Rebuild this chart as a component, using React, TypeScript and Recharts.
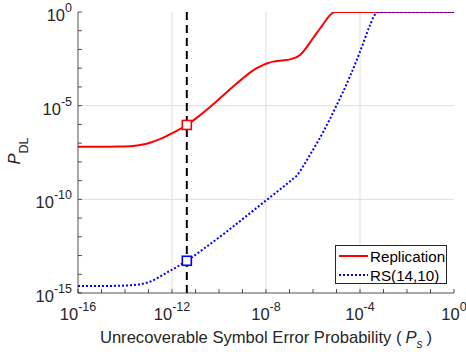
import React from 'react';
import {
  ComposedChart,
  Line,
  XAxis,
  YAxis,
  ReferenceLine,
  ReferenceDot,
  Legend,
} from 'recharts';

// ---- data ----
const replicationX = [
  1e-16, 1e-15, 5.01e-15, 2.24e-14, 5.01e-14, 1.15e-13, 2.51e-13, 5.89e-13, 1.58e-12, 4.27e-12,
  1.12e-11, 3.02e-11, 7.94e-11, 2.14e-10, 5.62e-10, 1.51e-9, 3.55e-9, 7.76e-9, 1.26e-8, 2.04e-8,
  4.47e-8, 1.05e-7, 1.78e-7, 2.82e-7, 4.57e-7, 7.41e-7, 1.2e-6, 2.0e-6, 3.02e-6, 4.47e-6,
  6.31e-6, 8.71e-6, 1,
];
const replicationY = [
  6.46e-8, 6.46e-8, 6.61e-8, 7.08e-8, 8.13e-8, 1.05e-7, 1.48e-7, 2.4e-7, 4.47e-7, 9.33e-7,
  2.24e-6, 6.03e-6, 1.74e-5, 5.25e-5, 1.51e-4, 4.27e-4, 9.12e-4, 1.51e-3, 1.91e-3, 2.24e-3,
  2.57e-3, 2.95e-3, 3.63e-3, 5.01e-3, 1.0e-2, 2.34e-2, 5.5e-2, 0.132, 0.275, 0.537,
  0.832, 1, 1,
];

const rsX = [
  1e-16, 8.7e-16, 6.17e-15, 2.24e-14, 1.15e-13, 5.89e-13, 4.27e-12, 3.02e-11, 2.14e-10, 1.51e-9,
  1.07e-8, 3.98e-8, 1.05e-7, 2.04e-7, 3.89e-7, 7.41e-7, 2.75e-6, 1.02e-5, 3.72e-5, 1e-4,
  2.69e-4, 3.98e-4, 5.13e-4, 6.31e-4, 1,
];
const rsY = [
  2.34e-15, 2.34e-15, 2.45e-15, 2.63e-15, 3.98e-15, 1.2e-14, 5.25e-14, 3.02e-13, 1.91e-12, 1.32e-11,
  9.33e-11, 3.39e-10, 9.12e-10, 1.86e-9, 6.03e-9, 2.34e-8, 4.07e-7, 1.07e-5, 3.55e-4, 7.59e-3,
  0.204, 0.617, 0.955, 1, 1,
];

const markerX = 4.27e-12;
const markerReplicationY = 9.33e-7;
const markerRsY = 5.25e-14;

const xTicks = [1e-16, 1e-15, 1e-14, 1e-13, 1e-12, 1e-11, 1e-10, 1e-9, 1e-8, 1e-7, 1e-6, 1e-5, 1e-4, 1e-3, 1e-2, 1e-1, 1];
const yTicks = [1e-15, 1e-14, 1e-13, 1e-12, 1e-11, 1e-10, 1e-9, 1e-8, 1e-7, 1e-6, 1e-5, 1e-4, 1e-3, 1e-2, 1e-1, 1];
const xGrid = [1e-12, 1e-8, 1e-4];
const yGrid = [1e-10, 1e-5];

const seriesNames = ['Replication', 'RS(14,10)'];

const replicationData = replicationX.map((x, i) => ({ x, y: replicationY[i] }));
const rsData = rsX.map((x, i) => ({ x, y: rsY[i] }));

const FONT = 'Liberation Sans, Arial, Helvetica, sans-serif';
const AXIS = '#262626';
const TICK_LEN = 4;

const expOf = (v: number) => Math.round(Math.log10(v));

const BottomTick = (props: any) => {
  const { x, y, payload } = props;
  const e = expOf(payload.value);
  return (
    <g>
      <line x1={x} y1={y} x2={x} y2={y - TICK_LEN} stroke={AXIS} strokeWidth={0.8} />
      {e % 4 === 0 && (
        <text x={x} y={y + 27} textAnchor="middle" fontFamily={FONT} fontSize={16.5} fill={AXIS}>
          10
          <tspan dy={-9} fontSize={12.5}>{e}</tspan>
        </text>
      )}
    </g>
  );
};

const TopTick = (props: any) => {
  const { x, y } = props;
  return <line x1={x} y1={y} x2={x} y2={y + TICK_LEN} stroke={AXIS} strokeWidth={0.8} />;
};

const LeftTick = (props: any) => {
  const { x, y, payload } = props;
  const e = expOf(payload.value);
  return (
    <g>
      <line x1={x} y1={y} x2={x + TICK_LEN} y2={y} stroke={AXIS} strokeWidth={0.8} />
      {e % 5 === 0 && (
        <text x={x - 6} y={y + 9} textAnchor="end" fontFamily={FONT} fontSize={16.5} fill={AXIS}>
          10
          <tspan dy={-9} fontSize={12.5}>{e}</tspan>
        </text>
      )}
    </g>
  );
};

const RightTick = (props: any) => {
  const { x, y } = props;
  return <line x1={x} y1={y} x2={x - TICK_LEN} y2={y} stroke={AXIS} strokeWidth={0.8} />;
};

const SquareMarker = (color: string) => (props: any) => {
  const { cx, cy } = props;
  return <rect x={cx - 4.5} y={cy - 4.5} width={9} height={9} fill="#ffffff" stroke={color} strokeWidth={1.6} />;
};

const LegendContent = () => (
  <div
    style={{
      width: 112,
      height: 39,
      border: `1px solid ${AXIS}`,
      background: '#fff',
      boxSizing: 'border-box',
      position: 'relative',
    }}
  >
    <svg width={112} height={39} style={{ position: 'absolute', left: -1, top: -1 }}>
      <line x1={4} y1={11} x2={33} y2={11} stroke="#ff0000" strokeWidth={2} />
      <line x1={4} y1={30} x2={33} y2={30} stroke="#0000ff" strokeWidth={2} strokeDasharray="2 2" />
      <text x={35} y={17} fontFamily={FONT} fontSize={15.2} fill="#000">{seriesNames[0]}</text>
      <text x={35} y={36} fontFamily={FONT} fontSize={15.2} fill="#000">{seriesNames[1]}</text>
    </svg>
  </div>
);

const YLabel = () => (
  <text x={20} y={151} transform="rotate(-90 20 151)" textAnchor="middle" fontFamily={FONT} fontSize={16.5} fill={AXIS}>
    <tspan fontStyle="italic">P</tspan>
    <tspan dy={8} fontSize={12.5}>DL</tspan>
  </text>
);

const XLabel = () => (
  <text x={266} y={343} textAnchor="middle" fontFamily={FONT} fontSize={16.6} fill={AXIS}>
    Unrecoverable Symbol Error Probability (
    <tspan fontStyle="italic" dx={4}>P</tspan>
    <tspan fontStyle="italic" dy={5} fontSize={12}>s</tspan>
    <tspan dy={-5} dx={4}>)</tspan>
  </text>
);

export default function App() {
  return (
    <div style={{ position: 'absolute', left: 0, top: 0, width: 466, height: 352, background: '#fff' }}>
      <ComposedChart
        width={466}
        height={352}
        margin={{ top: 12, right: 12, left: 0, bottom: 0 }}
        style={{ background: '#fff' }}
      >
        <XAxis
          xAxisId="b"
          dataKey="x"
          type="number"
          scale="log"
          domain={[1e-16, 1]}
          allowDataOverflow
          ticks={xTicks}
          interval={0}
          tick={<BottomTick />}
          tickLine={false}
          tickSize={0}
          tickMargin={0}
          height={59}
          stroke={AXIS}
          strokeWidth={0.8}
          label={<XLabel />}
        />
        <XAxis
          xAxisId="t"
          dataKey="x"
          type="number"
          scale="log"
          orientation="top"
          domain={[1e-16, 1]}
          allowDataOverflow
          ticks={xTicks}
          interval={0}
          tick={<TopTick />}
          tickLine={false}
          tickSize={0}
          tickMargin={0}
          height={0}
          stroke={AXIS}
          strokeWidth={0.8}
        />
        <YAxis
          yAxisId="l"
          type="number"
          scale="log"
          domain={[1e-15, 1]}
          allowDataOverflow
          ticks={yTicks}
          interval={0}
          tick={<LeftTick />}
          tickLine={false}
          tickSize={0}
          tickMargin={0}
          width={78}
          stroke={AXIS}
          strokeWidth={0.8}
          label={<YLabel />}
        />
        <YAxis
          yAxisId="r"
          type="number"
          scale="log"
          orientation="right"
          domain={[1e-15, 1]}
          allowDataOverflow
          ticks={yTicks}
          interval={0}
          tick={<RightTick />}
          tickLine={false}
          tickSize={0}
          tickMargin={0}
          width={0}
          stroke={AXIS}
          strokeWidth={0.8}
        />
        {xGrid.map((v) => (
          <ReferenceLine key={'gx' + v} x={v} xAxisId="b" yAxisId="l" stroke="#dedede" strokeWidth={1} />
        ))}
        {yGrid.map((v) => (
          <ReferenceLine key={'gy' + v} y={v} xAxisId="b" yAxisId="l" stroke="#dedede" strokeWidth={1} />
        ))}
        <Line
          data={replicationData}
          xAxisId="b"
          yAxisId="l"
          dataKey="y"
          name={seriesNames[0]}
          type="monotone"
          stroke="#ff0000"
          strokeWidth={2}
          dot={false}
          activeDot={false}
          isAnimationActive={false}
        />
        <Line
          data={rsData}
          xAxisId="b"
          yAxisId="l"
          dataKey="y"
          name={seriesNames[1]}
          type="monotone"
          stroke="#0000ff"
          strokeWidth={2}
          strokeDasharray="2 2"
          dot={false}
          activeDot={false}
          isAnimationActive={false}
        />
        <ReferenceLine x={markerX} xAxisId="b" yAxisId="l" stroke="#000" strokeWidth={2} strokeDasharray="8 5" />
        <ReferenceDot x={markerX} y={markerReplicationY} xAxisId="b" yAxisId="l" shape={SquareMarker('#ff0000')} />
        <ReferenceDot x={markerX} y={markerRsY} xAxisId="b" yAxisId="l" shape={SquareMarker('#0000ff')} />
        <Legend
          layout="vertical"
          align="center"
          verticalAlign="middle"
          content={<LegendContent />}
          wrapperStyle={{ left: 335, top: 245, width: 112, height: 39 }}
        />
      </ComposedChart>
    </div>
  );
}
